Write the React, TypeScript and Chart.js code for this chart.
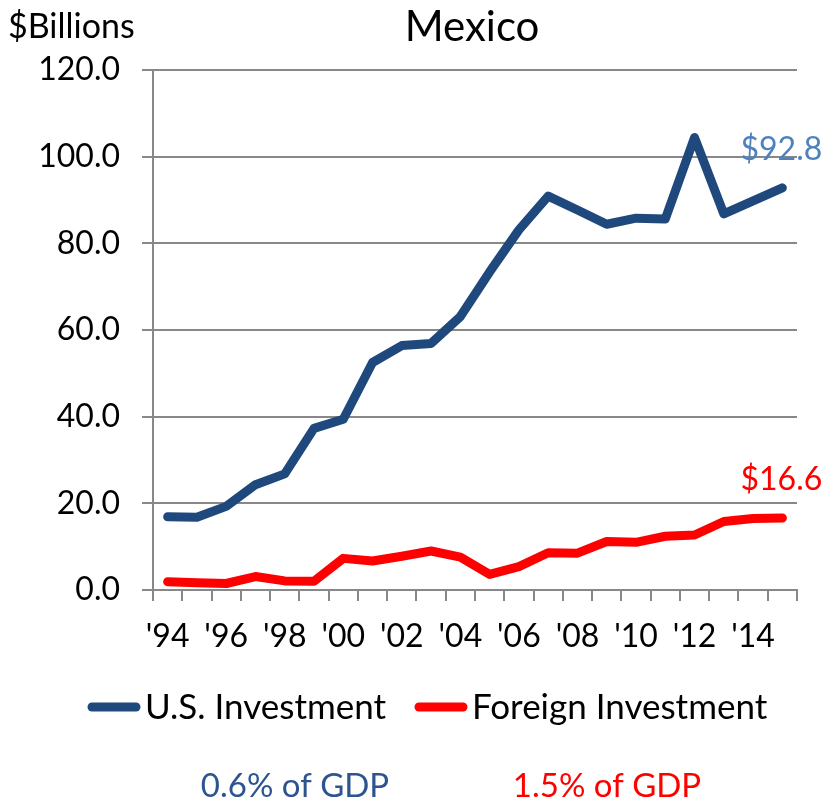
import React, { useEffect, useRef } from "react";
import { Chart, registerables } from "chart.js";

Chart.register(...registerables);

const years = [
  "1994", "1995", "1996", "1997", "1998", "1999", "2000", "2001", "2002", "2003", "2004",
  "2005", "2006", "2007", "2008", "2009", "2010", "2011", "2012", "2013", "2014", "2015",
];
const tickLabels = [
  "'94", "", "'96", "", "'98", "", "'00", "", "'02", "", "'04",
  "", "'06", "", "'08", "", "'10", "", "'12", "", "'14", "",
];
const usInvestment = [
  16.9, 16.8, 19.3, 24.3, 26.8, 37.3, 39.4, 52.5, 56.4, 56.9, 63.1,
  73.4, 83.1, 90.9, 87.7, 84.4, 85.8, 85.6, 104.4, 86.8, 89.8, 92.8,
];
const foreignInvestment = [
  1.9, 1.7, 1.5, 3.1, 2.1, 2.0, 7.3, 6.7, 7.8, 9.0, 7.6,
  3.6, 5.4, 8.6, 8.5, 11.2, 11.0, 12.4, 12.7, 15.8, 16.5, 16.6,
];
const seriesNames = ["U.S. Investment", "Foreign Investment"];
const seriesColors = ["#1F497D", "#FF0000"];
const endLabels = ["$92.8", "$16.6"];
const endLabelColors = ["#4F81BD", "#FF0000"];
const gdpShares = ["0.6% of GDP", "1.5% of GDP"];
const gdpColors = ["#2D5391", "#FF0000"];
const titleText = "Mexico";
const unitText = "$Billions";
const yMin = 0;
const yMax = 120;
const yStep = 20;

const FONT = "Lato, 'Open Sans', sans-serif";

const overlayPlugin = {
  id: "overlay",
  afterDraw(chart: any) {
    const ctx = chart.ctx as CanvasRenderingContext2D;
    ctx.save();
    ctx.textBaseline = "alphabetic";

    // Title
    ctx.fillStyle = "#000000";
    ctx.font = `42px ${FONT}`;
    ctx.textAlign = "center";
    ctx.fillText(titleText, 472, 41);

    // Unit label
    ctx.font = `34px ${FONT}`;
    ctx.textAlign = "left";
    ctx.fillText(unitText, 8, 38);

    // End labels
    chart.data.datasets.forEach((_ds: any, i: number) => {
      const meta = chart.getDatasetMeta(i);
      const last = meta.data[meta.data.length - 1];
      ctx.fillStyle = endLabelColors[i];
      ctx.font = `32px ${FONT}`;
      ctx.textAlign = "center";
      ctx.fillText(endLabels[i], last.x - 1, last.y - 28);
    });

    // Legend
    const legendX = [92, 419];
    const legendY = 707;
    ctx.font = `35px ${FONT}`;
    ctx.textAlign = "left";
    ctx.textBaseline = "middle";
    chart.data.datasets.forEach((ds: any, i: number) => {
      ctx.strokeStyle = ds.borderColor;
      ctx.lineWidth = 9;
      ctx.lineCap = "round";
      ctx.beginPath();
      ctx.moveTo(legendX[i], legendY);
      ctx.lineTo(legendX[i] + 44, legendY);
      ctx.stroke();
      ctx.fillStyle = "#000000";
      ctx.fillText(ds.label, legendX[i] + 53, legendY + 1);
    });

    // GDP shares
    const gdpX = [295, 607];
    ctx.font = `33px ${FONT}`;
    ctx.textAlign = "center";
    gdpShares.forEach((t, i) => {
      ctx.fillStyle = gdpColors[i];
      ctx.fillText(t, gdpX[i], 786);
    });

    ctx.restore();
  },
};

export default function App() {
  const canvasRef = useRef<HTMLCanvasElement | null>(null);

  useEffect(() => {
    if (!canvasRef.current) return;
    const chart = new Chart(canvasRef.current, {
      type: "line",
      data: {
        labels: years,
        datasets: [
          {
            label: seriesNames[0],
            data: usInvestment,
            borderColor: seriesColors[0],
            backgroundColor: seriesColors[0],
            borderWidth: 9,
            pointRadius: 0,
            tension: 0,
            borderCapStyle: "round",
            borderJoinStyle: "round",
          },
          {
            label: seriesNames[1],
            data: foreignInvestment,
            borderColor: seriesColors[1],
            backgroundColor: seriesColors[1],
            borderWidth: 9,
            pointRadius: 0,
            tension: 0,
            borderCapStyle: "round",
            borderJoinStyle: "round",
          },
        ],
      },
      options: {
        animation: false,
        responsive: false,
        maintainAspectRatio: false,
        layout: { padding: { left: 0, right: 30, top: 70, bottom: 0 } },
        plugins: {
          legend: { display: false },
          title: { display: false },
          tooltip: { enabled: false },
        },
        scales: {
          x: {
            offset: true,
            grid: {
              offset: true,
              drawOnChartArea: false,
              drawTicks: true,
              tickLength: 11,
              color: "#888888",
              lineWidth: 2,
            },
            border: { display: true, color: "#888888", width: 2 },
            ticks: {
              autoSkip: false,
              maxRotation: 0,
              minRotation: 0,
              padding: 16,
              color: "#000000",
              font: { family: FONT, size: 32 },
              callback: (_v: any, i: number) => tickLabels[i],
            },
            afterFit: (scale: any) => {
              scale.height = 211;
            },
          },
          y: {
            min: yMin,
            max: yMax,
            grid: {
              color: "#888888",
              lineWidth: 2,
              tickLength: 11,
              drawTicks: true,
            },
            border: { display: true, color: "#888888", width: 2 },
            ticks: {
              stepSize: yStep,
              padding: 22,
              color: "#000000",
              font: { family: FONT, size: 32 },
              callback: (v: any) => Number(v).toFixed(1),
            },
            afterFit: (scale: any) => {
              scale.width = 153;
            },
          },
        },
      },
      plugins: [overlayPlugin],
    });
    return () => chart.destroy();
  }, []);

  return (
    <div style={{ position: "absolute", left: 0, top: 0, width: 827, height: 801, background: "#ffffff" }}>
      <canvas ref={canvasRef} width={827} height={801} style={{ width: 827, height: 801, display: "block" }} />
    </div>
  );
}
